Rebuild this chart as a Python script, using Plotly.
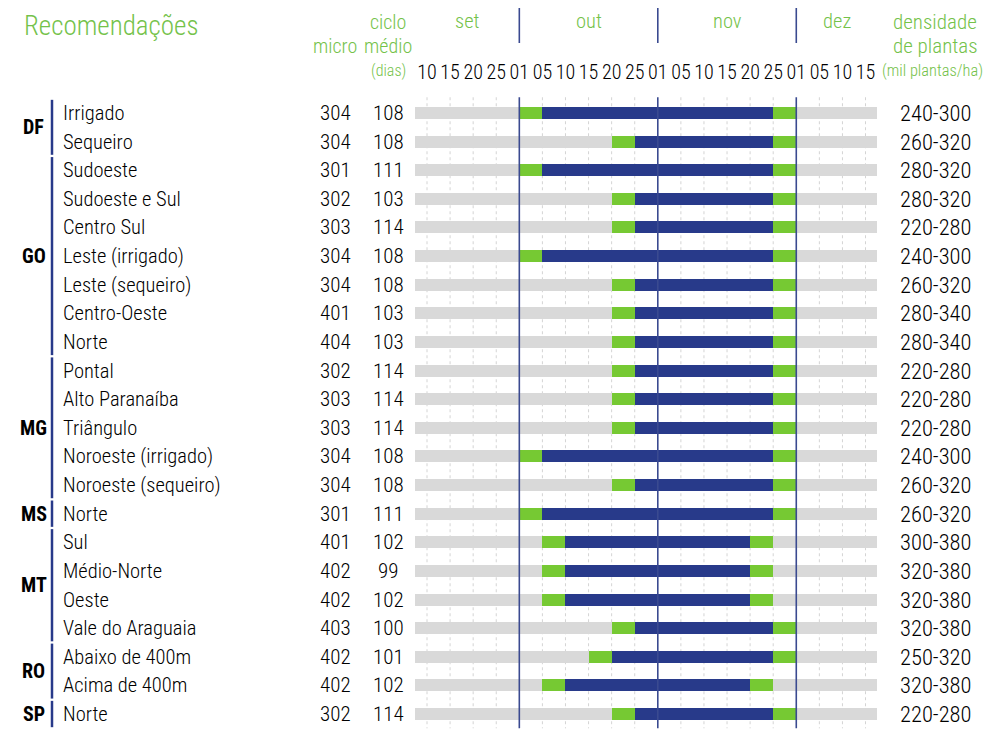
import plotly.graph_objects as go

# ---------------- data ----------------
states = ["DF", "DF",
          "GO", "GO", "GO", "GO", "GO", "GO", "GO",
          "MG", "MG", "MG", "MG", "MG",
          "MS",
          "MT", "MT", "MT", "MT",
          "RO", "RO",
          "SP"]
regions = ["Irrigado", "Sequeiro",
           "Sudoeste", "Sudoeste e Sul", "Centro Sul", "Leste (irrigado)", "Leste (sequeiro)",
           "Centro-Oeste", "Norte",
           "Pontal", "Alto Paranaíba", "Triângulo", "Noroeste (irrigado)", "Noroeste (sequeiro)",
           "Norte",
           "Sul", "Médio-Norte", "Oeste", "Vale do Araguaia",
           "Abaixo de 400m", "Acima de 400m",
           "Norte"]
micro = [304, 304, 301, 302, 303, 304, 304, 401, 404, 302, 303, 303, 304, 304,
         301, 401, 402, 402, 403, 402, 402, 302]
ciclo = [108, 108, 111, 103, 114, 108, 108, 103, 103, 114, 114, 114, 108, 108,
         111, 102, 99, 102, 100, 101, 102, 114]
densidade = ["240-300", "260-320", "280-320", "280-320", "220-280", "240-300", "260-320",
             "280-340", "280-340", "220-280", "220-280", "220-280", "240-300", "260-320",
             "260-320", "300-380", "320-380", "320-380", "320-380", "250-320", "320-380",
             "220-280"]

# sowing window: start of window (green), start of optimum (blue), end of optimum, end of window
win_start = ["out 01", "out 20", "out 01", "out 20", "out 20", "out 01", "out 20", "out 20", "out 20",
             "out 20", "out 20", "out 20", "out 01", "out 20", "out 01",
             "out 05", "out 05", "out 05", "out 20", "out 15", "out 05", "out 20"]
opt_start = ["out 05", "out 25", "out 05", "out 25", "out 25", "out 05", "out 25", "out 25", "out 25",
             "out 25", "out 25", "out 25", "out 05", "out 25", "out 05",
             "out 10", "out 10", "out 10", "out 25", "out 20", "out 10", "out 25"]
opt_end = ["nov 25", "nov 25", "nov 25", "nov 25", "nov 25", "nov 25", "nov 25", "nov 25", "nov 25",
           "nov 25", "nov 25", "nov 25", "nov 25", "nov 25", "nov 25",
           "nov 20", "nov 20", "nov 20", "nov 25", "nov 25", "nov 20", "nov 25"]
win_end = ["dez 01", "dez 01", "dez 01", "dez 01", "dez 01", "dez 01", "dez 01", "dez 01", "dez 01",
           "dez 01", "dez 01", "dez 01", "dez 01", "dez 01", "dez 01",
           "nov 25", "nov 25", "nov 25", "dez 01", "dez 01", "nov 25", "dez 01"]

months = ["set", "out", "nov", "dez"]
month_days = [["10", "15", "20", "25"],
              ["01", "05", "10", "15", "20", "25"],
              ["01", "05", "10", "15", "20", "25"],
              ["01", "05", "10", "15"]]

# ---------------- derived ----------------
tick_text, date_idx, month_first = [], {}, []
for m, days in zip(months, month_days):
    month_first.append(len(tick_text))
    for d in days:
        date_idx[f"{m} {d}"] = len(tick_text)
        tick_text.append(d)
n_ticks = len(tick_text)
tick_vals = list(range(n_ticks))
lo, hi = -0.5, n_ticks - 0.5
month_bounds = [lo] + month_first[1:] + [hi]

n = len(regions)
rows = list(range(n))
ws = [date_idx[d] for d in win_start]
os_ = [date_idx[d] for d in opt_start]
oe = [date_idx[d] for d in opt_end]
we = [date_idx[d] for d in win_end]

FONT = "Roboto Condensed, DejaVu Sans Condensed, Liberation Sans Narrow, Roboto, sans-serif"
GREEN_TXT = "#74c24a"
GREEN = "#76c933"
BLUE = "#283a8a"
LINE = "#3a4a90"
GRAY = "#d9d9d9"
TXT = "#000000"

W, H = 1000, 744
OFF = 8  # page body margin
TOP = 84 - OFF  # figure pixel of top of plot area
# row pixel mapping (figure coords): 105 + 28.62*i
r_top = (TOP - (113 - OFF)) / 28.62
r_bot = (H - (113 - OFF)) / 28.62
# x pixel mapping (figure coords): 419 + 23.08*k
x_left = -(427 - OFF) / 23.08
x_right = (W - (427 - OFF)) / 23.08


def px(p):
    return (p - OFF) / W


def py(p):
    return 1 - (p - OFF) / H


BW = 0.42
fig = go.Figure()
fig.add_trace(go.Bar(orientation="h", y=rows, x=[hi - lo] * n, base=[lo] * n,
                     marker=dict(color=GRAY, line=dict(width=0)), width=BW, hoverinfo="skip"))
fig.add_trace(go.Bar(orientation="h", y=rows, x=[b - a for a, b in zip(ws, os_)], base=ws,
                     marker=dict(color=GREEN, line=dict(width=0)), width=BW, hoverinfo="skip"))
fig.add_trace(go.Bar(orientation="h", y=rows, x=[b - a for a, b in zip(os_, oe)], base=os_,
                     marker=dict(color=BLUE, line=dict(width=0)), width=BW, hoverinfo="skip"))
fig.add_trace(go.Bar(orientation="h", y=rows, x=[b - a for a, b in zip(oe, we)], base=oe,
                     marker=dict(color=GREEN, line=dict(width=0)), width=BW, hoverinfo="skip"))

shapes = []
g_top, g_bot = -0.55, n - 0.5
for k in tick_vals:
    if k in month_first[1:]:
        continue
    shapes.append(dict(type="line", xref="x", yref="y", x0=k, x1=k, y0=g_top, y1=g_bot,
                       line=dict(color="#d4d4d4", width=1, dash="dot"), layer="below"))
for k in month_first[1:]:
    shapes.append(dict(type="line", xref="x", yref="y", x0=k, x1=k, y0=g_top, y1=g_bot,
                       line=dict(color=LINE, width=1.6), layer="above"))
    shapes.append(dict(type="line", xref="x", yref="paper", x0=k, x1=k, y0=py(43), y1=py(5),
                       line=dict(color=LINE, width=1.6)))

annotations = []
# group labels and bars
groups = []
for i, s in enumerate(states):
    if groups and groups[-1][0] == s:
        groups[-1][2] = i
    else:
        groups.append([s, i, i])
for s, a, b in groups:
    shapes.append(dict(type="line", xref="paper", yref="y", x0=px(52), x1=px(52),
                       y0=a - 0.46, y1=b + 0.46, line=dict(color=BLUE, width=2.5)))
    annotations.append(dict(xref="paper", yref="y", x=px(33.5), y=(a + b) / 2, text=f"<b>{s}</b>",
                            showarrow=False, xanchor="center", yanchor="middle",
                            font=dict(family=FONT, size=20, color=TXT)))


def cell(x, i, text, anchor="center", size=20.5):
    annotations.append(dict(xref="paper", yref="y", x=px(x), y=i, text=text, showarrow=False,
                            xanchor=anchor, yanchor="middle",
                            font=dict(family=FONT, size=size, color=TXT, weight=300)))


for i in rows:
    cell(61, i, regions[i], anchor="left")
    cell(335, i, str(micro[i]), size=21)
    cell(388, i, str(ciclo[i]), size=21)
    cell(935, i, densidade[i], size=22.5)


# header
def hdr(x, y, text, size=20.5, anchor="center", xref="paper", yanchor="middle"):
    annotations.append(dict(xref=xref, yref="paper", x=x, y=py(y), text=text, showarrow=False,
                            xanchor=anchor, yanchor=yanchor, borderpad=0,
                            font=dict(family=FONT, size=size, color=GREEN_TXT, weight=300)))


hdr(px(23), OFF + 1, "Recomendações", size=27, anchor="left", yanchor="top")
hdr(px(334.5), 46, "micro", size=20)
hdr(px(388), 22, "ciclo", size=20)
hdr(px(388), 46, "médio", size=20)
hdr(px(388), 70, "(dias)", size=16)
for m, a, b in zip(months, month_bounds[:-1], month_bounds[1:]):
    hdr((a + b) / 2, 21, m, xref="x")
hdr(px(935), 22, "densidade", size=21)
hdr(px(935), 46, "de plantas", size=21)
hdr(px(932), 70, "(mil plantas/ha)", size=16.4)

fig.update_layout(
    width=W, height=H,
    margin=dict(l=0, r=0, t=0, b=0),
    paper_bgcolor="white", plot_bgcolor="white",
    barmode="overlay", showlegend=False,
    bargap=0,
    xaxis=dict(range=[x_left, x_right], domain=[0, 1], side="top", tickmode="array",
               tickvals=tick_vals, ticktext=tick_text, ticks="", showgrid=False, zeroline=False,
               showline=False, tickfont=dict(family=FONT, size=20, color=TXT, weight=300),
               fixedrange=True),
    yaxis=dict(range=[r_bot, r_top], domain=[0, 1 - TOP / H], showticklabels=False, ticks="",
               showgrid=False, zeroline=False, showline=False, fixedrange=True),
    shapes=shapes, annotations=annotations,
)

fig.write_html("out.html")
